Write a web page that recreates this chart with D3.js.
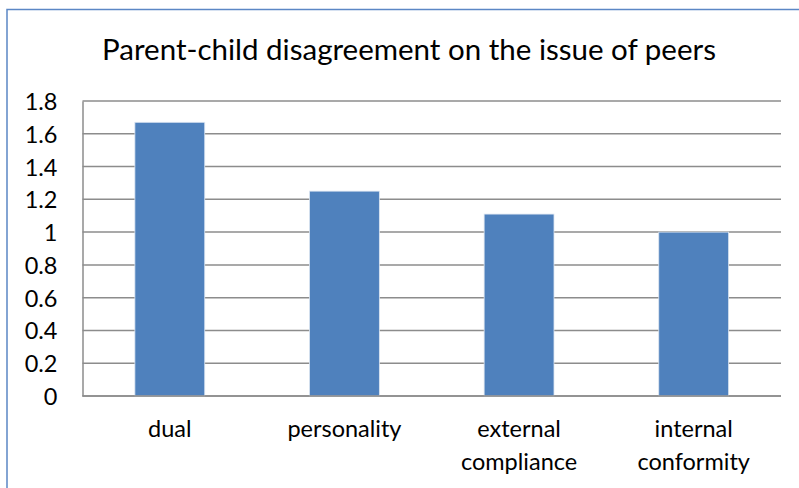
<!DOCTYPE html>
<html>
<head>
<meta charset="utf-8">
<script src="https://cdn.jsdelivr.net/npm/d3@7"></script>
<style>
  html, body { margin: 0; padding: 0; background: #fff; }
  svg { display: block; }
  text { font-family: Lato, "Open Sans", sans-serif; fill: #000; }
</style>
</head>
<body>
<svg id="chart" width="799" height="488"></svg>
<script>
// Chart data
const title = "Parent-child disagreement on the issue of peers";
const categories = ["dual", "personality", "external compliance", "internal conformity"];
const categoryLines = [["dual"], ["personality"], ["external", "compliance"], ["internal", "conformity"]];
const values = [1.67, 1.25, 1.11, 1.00];
const yTicks = [0, 0.2, 0.4, 0.6, 0.8, 1, 1.2, 1.4, 1.6, 1.8];

const svg = d3.select("#chart");
const W = 799, H = 488;
const plot = { left: 82.5, right: 781, top: 101, bottom: 396 };
const labelSize = 23.5;

// Outer chart frame (only the top and left edges fall inside the view)
svg.append("rect")
  .attr("x", 7).attr("y", 9.5)
  .attr("width", W + 20).attr("height", H + 20)
  .attr("fill", "none")
  .attr("stroke", "#5B87C5")
  .attr("stroke-width", 1.5);

const x = d3.scaleBand().domain(categories).range([plot.left, plot.right]).padding(0);
const y = d3.scaleLinear().domain([0, 1.8]).range([plot.bottom, plot.top]);

// Horizontal gridlines
svg.append("g")
  .selectAll("line")
  .data(yTicks)
  .join("line")
  .attr("x1", plot.left).attr("x2", plot.right)
  .attr("y1", d => y(d)).attr("y2", d => y(d))
  .attr("stroke", "#8c8c8c")
  .attr("stroke-width", 1.5);

// Y axis
const yAxis = svg.append("g")
  .attr("transform", `translate(${plot.left},0)`)
  .call(d3.axisLeft(y).tickValues(yTicks).tickSize(0).tickPadding(25)
    .tickFormat(d => d3.format("~g")(d)));
yAxis.select(".domain").attr("stroke", "#8c8c8c").attr("stroke-width", 1.5);
yAxis.selectAll("text")
  .attr("font-size", labelSize)
  .attr("dy", "0.36em")
  .attr("fill", "#000")
  .style("font-family", "Lato, 'Open Sans', sans-serif");

// Bars
const barW = x.bandwidth() * 0.4;
svg.append("g")
  .selectAll("rect")
  .data(values)
  .join("rect")
  .attr("x", (d, i) => x(categories[i]) + (x.bandwidth() - barW) / 2)
  .attr("y", d => y(d))
  .attr("width", barW)
  .attr("height", d => y(0) - y(d))
  .attr("fill", "#4F81BD")
  .attr("stroke", "#dbe5f1")
  .attr("stroke-width", 0.8);

// X axis baseline
svg.append("line")
  .attr("x1", plot.left).attr("x2", plot.right)
  .attr("y1", y(0)).attr("y2", y(0))
  .attr("stroke", "#8c8c8c").attr("stroke-width", 1.5);

// Category labels
const catG = svg.append("g");
categories.forEach((c, i) => {
  const cx = x(c) + x.bandwidth() / 2;
  const t = catG.append("text")
    .attr("x", cx).attr("y", 437)
    .attr("text-anchor", "middle")
    .attr("font-size", labelSize);
  categoryLines[i].forEach((ln, j) => {
    t.append("tspan").attr("x", cx).attr("dy", j === 0 ? 0 : 33).text(ln);
  });
});

// Title
svg.append("text")
  .attr("x", 409).attr("y", 60)
  .attr("text-anchor", "middle")
  .attr("font-size", 29.5)
  .text(title);
</script>
</body>
</html>
